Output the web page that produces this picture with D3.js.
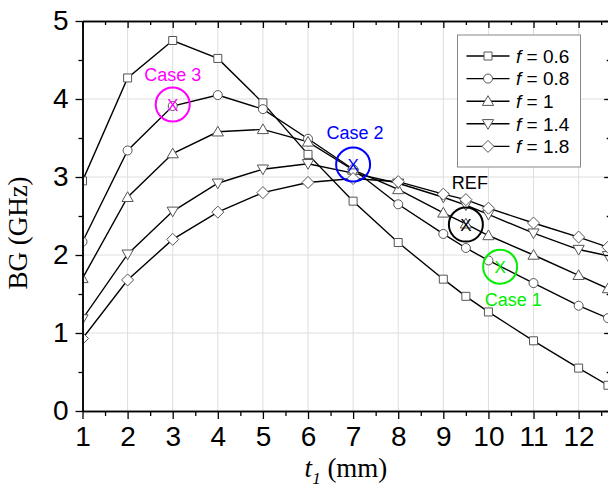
<!DOCTYPE html>
<html>
<head>
<meta charset="utf-8">
<script src="https://cdn.jsdelivr.net/npm/d3@7"></script>
<style>
  html, body { margin: 0; padding: 0; background: #fff; }
  svg { display: block; }
</style>
</head>
<body>
<svg id="chart"></svg>
<script>
var width = 608;
var height = 497;

// t1 values (mm)
var t1 = [1, 2, 3, 4, 5, 6, 7, 8, 9, 9.5, 10, 11, 12, 12.65];

// BG (GHz) for each f
var bgF06 = [2.95, 4.27, 4.75, 4.52, 3.95, 3.29, 2.69, 2.16, 1.69, 1.47, 1.27, 0.90, 0.55, 0.33];
var bgF08 = [2.17, 3.34, 3.91, 4.05, 3.87, 3.49, 3.10, 2.65, 2.27, 2.09, 1.93, 1.64, 1.35, 1.19];
var bgF1  = [1.70, 2.74, 3.30, 3.58, 3.61, 3.45, 3.09, 2.84, 2.54, 2.40, 2.25, 2.00, 1.74, 1.57];
var bgF14 = [1.18, 2.01, 2.56, 2.92, 3.10, 3.17, 3.05, 2.92, 2.74, 2.64, 2.52, 2.28, 2.07, 1.99];
var bgF18 = [0.93, 1.68, 2.20, 2.55, 2.80, 2.93, 2.98, 2.94, 2.78, 2.71, 2.60, 2.41, 2.23, 2.10];

var fLabels = ["0.6", "0.8", "1", "1.4", "1.8"];
var markers = ["square", "circle", "triangle", "triangleDown", "diamond"];
var seriesValues = [bgF06, bgF08, bgF1, bgF14, bgF18];

var xTicks = [1, 2, 3, 4, 5, 6, 7, 8, 9, 10, 11, 12];
var xMinor = [1.5, 2.5, 3.5, 4.5, 5.5, 6.5, 7.5, 8.5, 9.5, 10.5, 11.5, 12.5];
var yTicks = [0, 1, 2, 3, 4, 5];
var yMinor = [0.5, 1.5, 2.5, 3.5, 4.5];

var caseNames = ["Case 3", "Case 2", "REF", "Case 1"];
var caseT = [3, 7, 9.5, 10.26];
var caseBG = [3.93, 3.16, 2.39, 1.85];
var caseColors = ["#ff00ff", "#0000ff", "#000000", "#00ee00"];

var series = fLabels.map(function(f, i) {
  return {
    f: f,
    marker: markers[i],
    points: t1.map(function(t, j) { return {t: t, v: seriesValues[i][j]}; })
  };
});

var xScale = d3.scaleLinear().domain([1, 12.7]).range([82.5, 610.2]);
var yScale = d3.scaleLinear().domain([0, 5]).range([411, 21]);

var svg = d3.select("#chart")
    .attr("width", width)
    .attr("height", height)
    .style("font-family", "'Liberation Sans', Arial, sans-serif");

svg.append("defs").append("clipPath")
    .attr("id", "plotClip")
  .append("rect")
    .attr("x", xScale(1))
    .attr("y", yScale(5))
    .attr("width", xScale(12.7) - xScale(1))
    .attr("height", yScale(0) - yScale(5));

// grid
svg.append("g")
    .selectAll("line")
    .data(xTicks.slice(1))
    .enter()
    .append("line")
        .attr("x1", d => xScale(d)).attr("x2", d => xScale(d))
        .attr("y1", yScale(0)).attr("y2", yScale(5))
        .attr("stroke", "#dedede").attr("stroke-width", 1);
svg.append("g")
    .selectAll("line")
    .data(yTicks.slice(1, -1))
    .enter()
    .append("line")
        .attr("x1", xScale(1)).attr("x2", xScale(12.7))
        .attr("y1", d => yScale(d)).attr("y2", d => yScale(d))
        .attr("stroke", "#dedede").attr("stroke-width", 1);

// series lines + markers
function markerPath(type) {
  switch (type) {
    case "square": return "M-4,-4H4V4H-4Z";
    case "circle": return "M4.5,0A4.5,4.5 0 1,1 -4.5,0A4.5,4.5 0 1,1 4.5,0Z";
    case "triangle": return "M0,-5.5L5.6,4.2H-5.6Z";
    case "triangleDown": return "M0,5.5L5.6,-4.2H-5.6Z";
    case "diamond": return "M0,-6L6,0L0,6L-6,0Z";
  }
}

var line = d3.line()
    .x(d => xScale(d.t))
    .y(d => yScale(d.v));

var plot = svg.append("g").attr("clip-path", "url(#plotClip)");

plot.selectAll("path.series")
    .data(series)
    .enter()
    .append("path")
        .attr("class", "series")
        .attr("d", d => line(d.points))
        .attr("fill", "none")
        .attr("stroke", "#000")
        .attr("stroke-width", 1.4);

series.forEach(function(s) {
  plot.append("g")
      .selectAll("path")
      .data(s.points)
      .enter()
      .append("path")
          .attr("transform", d => "translate(" + xScale(d.t) + "," + yScale(d.v) + ")")
          .attr("d", markerPath(s.marker))
          .attr("fill", "#fff")
          .attr("stroke", "#555")
          .attr("stroke-width", 1);
});

// axes
function styleAxis(g) {
  g.selectAll("path.domain").attr("stroke", "#000").attr("stroke-width", 1.5);
  g.selectAll(".tick line").attr("stroke", "#000").attr("stroke-width", 1.3);
  g.selectAll("text")
      .attr("fill", "#000")
      .style("font-family", "'Liberation Sans', Arial, sans-serif")
      .style("font-size", "28px");
}

svg.append("g")
    .attr("transform", "translate(0," + yScale(0) + ")")
    .call(d3.axisBottom(xScale).tickValues(xTicks).tickSize(8).tickPadding(7).tickSizeOuter(0).tickFormat(d3.format("d")))
    .call(styleAxis);
svg.append("g")
    .attr("transform", "translate(0," + yScale(0) + ")")
    .call(d3.axisBottom(xScale).tickValues(xMinor).tickSize(5).tickSizeOuter(0).tickFormat(""))
    .call(styleAxis);

svg.append("g")
    .attr("transform", "translate(" + xScale(1) + ",0)")
    .call(d3.axisLeft(yScale).tickValues(yTicks).tickSize(7).tickPadding(7).tickSizeOuter(0).tickFormat(d3.format("d")))
    .call(styleAxis);
svg.append("g")
    .attr("transform", "translate(" + xScale(1) + ",0)")
    .call(d3.axisLeft(yScale).tickValues(yMinor).tickSize(4).tickSizeOuter(0).tickFormat(""))
    .call(styleAxis);

svg.append("g")
    .attr("transform", "translate(0," + yScale(5) + ")")
    .call(d3.axisTop(xScale).tickValues(xTicks).tickSize(-7).tickSizeOuter(0).tickFormat(""))
    .call(styleAxis);
svg.append("g")
    .attr("transform", "translate(0," + yScale(5) + ")")
    .call(d3.axisTop(xScale).tickValues(xMinor).tickSize(-4).tickSizeOuter(0).tickFormat(""))
    .call(styleAxis);

svg.append("g")
    .attr("transform", "translate(" + xScale(12.7) + ",0)")
    .call(d3.axisRight(yScale).tickValues(yTicks).tickSize(-6).tickSizeOuter(0).tickFormat(""))
    .call(styleAxis);
svg.append("g")
    .attr("transform", "translate(" + xScale(12.7) + ",0)")
    .call(d3.axisRight(yScale).tickValues(yMinor).tickSize(-3.5).tickSizeOuter(0).tickFormat(""))
    .call(styleAxis);

// axis titles
svg.append("text")
    .attr("transform", "rotate(-90)")
    .attr("x", -233)
    .attr("y", 27)
    .style("text-anchor", "middle")
    .style("font-family", "'Liberation Serif', 'Times New Roman', serif")
    .style("font-size", "27px")
    .text("BG (GHz)");

var xTitle = svg.append("text")
    .attr("x", 346)
    .attr("y", 477)
    .style("text-anchor", "middle")
    .style("font-family", "'Liberation Serif', 'Times New Roman', serif")
    .style("font-size", "27px");
xTitle.append("tspan").style("font-style", "italic").text("t");
xTitle.append("tspan").style("font-style", "italic").style("font-size", "17px").attr("dy", 7).text("1");
xTitle.append("tspan").attr("dy", -7).text(" (mm)");

// annotations
var labelOffset = {"Case 3": [0, -30], "Case 2": [2, -32], "REF": [4, -42], "Case 1": [13, 33]};
var cases = caseNames.map(function(n, i) {
  return {name: n, t: caseT[i], v: caseBG[i], color: caseColors[i]};
});
var ann = svg.append("g")
    .selectAll("g")
    .data(cases)
    .enter()
    .append("g")
        .attr("transform", d => "translate(" + xScale(d.t) + "," + yScale(d.v) + ")");
ann.append("circle")
    .attr("r", 17)
    .attr("fill", "none")
    .attr("stroke", d => d.color)
    .attr("stroke-width", 2);
ann.append("text")
    .attr("dy", "0.36em")
    .style("text-anchor", "middle")
    .style("font-size", "17px")
    .attr("fill", d => d.color)
    .text("X");
ann.append("text")
    .attr("x", d => labelOffset[d.name][0])
    .attr("y", d => labelOffset[d.name][1])
    .attr("dy", "0.36em")
    .style("text-anchor", "middle")
    .style("font-size", "18px")
    .attr("fill", d => d.color)
    .text(d => d.name);

// legend
var legend = svg.append("g");
legend.append("rect")
    .attr("x", 457.5).attr("y", 35)
    .attr("width", 123).attr("height", 132)
    .attr("fill", "#fff")
    .attr("stroke", "#888")
    .attr("stroke-width", 1);
var items = legend.selectAll("g.item")
    .data(series)
    .enter()
    .append("g")
        .attr("class", "item")
        .attr("transform", (d, i) => "translate(0," + (56 + i * 22.6) + ")");
items.append("line")
    .attr("x1", 466.5).attr("x2", 509.5)
    .attr("stroke", "#000").attr("stroke-width", 1.4);
items.append("path")
    .attr("transform", "translate(488,0)")
    .attr("d", d => markerPath(d.marker))
    .attr("fill", "#fff")
    .attr("stroke", "#555")
    .attr("stroke-width", 1);
var lt = items.append("text")
    .attr("x", 516)
    .attr("dy", "0.36em")
    .style("font-size", "19px")
    .attr("fill", "#000");
lt.append("tspan").style("font-style", "italic").text("f");
lt.append("tspan").text(d => " = " + d.f);
</script>
</body>
</html>
